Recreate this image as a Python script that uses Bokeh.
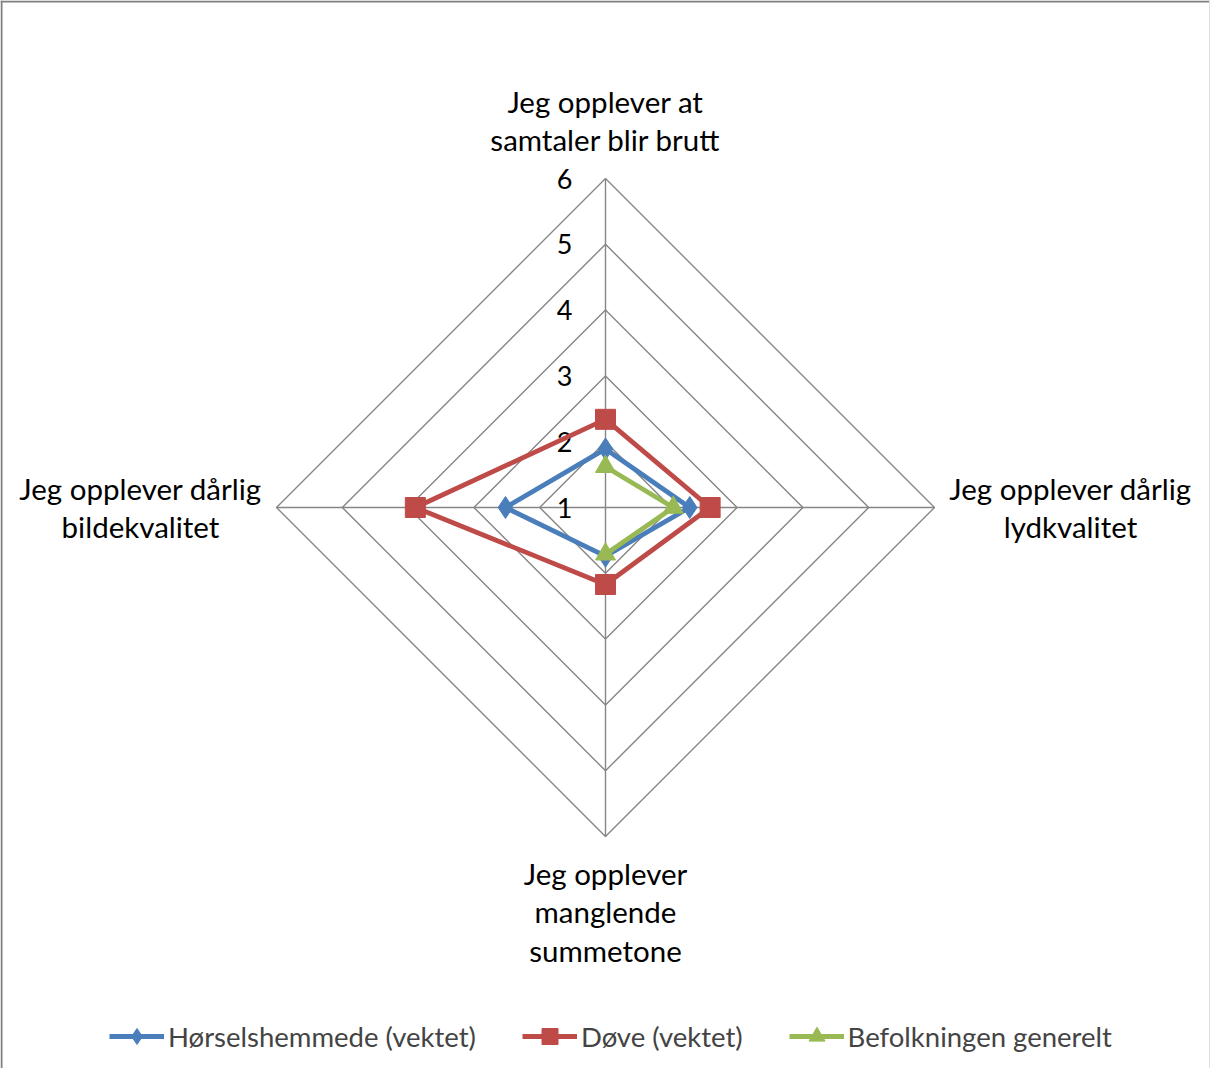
import math
from bokeh.plotting import figure
from bokeh.models import Range1d, Span, Legend, LegendItem
from bokeh.core.properties import value
from bokeh.embed import file_html
from bokeh.resources import INLINE

# ---- data ----
categories = [
    "Jeg opplever at\nsamtaler blir brutt",
    "Jeg opplever dårlig\nlydkvalitet",
    "Jeg opplever\nmanglende\nsummetone",
    "Jeg opplever dårlig\nbildekvalitet",
]
series_names = ["Hørselshemmede (vektet)", "Døve (vektet)", "Befolkningen generelt"]
hoerselshemmede = [1.89, 2.28, 1.74, 2.52]
doeve = [2.34, 2.59, 2.17, 3.89]
befolkningen = [1.62, 2.03, 1.71, float("nan")]
tick_labels = ["1", "2", "3", "4", "5", "6"]
r_min, r_max = 1, 6

# ---- style ----
FONT = "Lato"
colors = ["#4a7ebb", "#be4b48", "#98b954"]
markers = ["diamond", "square", "triangle"]
marker_sizes = [22, 20, 20]
GRID = "#868686"
UNIT = 65.8  # px per value unit

W, H = 1210, 1068
cx, cy = 605, 507
p = figure(width=W, height=H, output_backend="svg", toolbar_location=None,
           x_range=Range1d(-cx, W - cx), y_range=Range1d(cy - H, cy),
           min_border=0, outline_line_color=None)
p.axis.visible = False
p.grid.visible = False
p.background_fill_color = "white"
p.border_fill_color = "white"

# angles: top, right, bottom, left
angles = [math.pi / 2, 0, -math.pi / 2, math.pi]


def to_xy(vals):
    xs, ys = [], []
    for v, a in zip(vals, angles):
        r = (v - r_min) * UNIT
        xs.append(r * math.cos(a))
        ys.append(r * math.sin(a))
    return xs, ys


# grid rings
for lv in range(r_min + 1, r_max + 1):
    xs, ys = to_xy([lv] * 4)
    p.line(xs + xs[:1], ys + ys[:1], line_color=GRID, line_width=1.4)
# spokes
for a in angles:
    R = (r_max - r_min) * UNIT
    p.line([0, R * math.cos(a)], [0, R * math.sin(a)], line_color=GRID, line_width=1.4)

# tick labels
tick_vals = [float(t) for t in tick_labels]
p.text(x=[-33] * len(tick_vals), y=[(v - r_min) * UNIT for v in tick_vals], text=tick_labels,
       text_font=value(FONT), text_font_size="27px", text_align="right",
       text_baseline="middle", text_color="#000000")

# category labels
R = (r_max - r_min) * UNIT
lab_r = [R + 58, R + 136, R + 75, R + 136]
lx = [lab_r[i] * math.cos(a) for i, a in enumerate(angles)]
ly = [lab_r[i] * math.sin(a) for i, a in enumerate(angles)]
p.text(x=lx, y=ly, text=categories, text_font=value(FONT), text_font_size="29.5px",
       text_align="center", text_baseline="middle", text_line_height=1.1,
       text_color="#000000")

# series
items = []
for name, vals, col, mk, ms in zip(series_names, [hoerselshemmede, doeve, befolkningen],
                                    colors, markers, marker_sizes):
    xs, ys = to_xy(vals)
    lr = p.line(xs + xs[:1], ys + ys[:1], line_color=col, line_width=4.8, line_join="round")
    sr = p.scatter(xs, ys, marker=mk, size=ms, fill_color=col, line_color=col)
    items.append(LegendItem(label=name, renderers=[lr, sr]))

legend = Legend(items=items, orientation="horizontal", location=(109, 12),
                glyph_width=55, glyph_height=40, label_text_font=FONT,
                label_text_font_size="27.5px", label_standoff=4, spacing=46,
                padding=0, margin=0, border_line_color=None,
                background_fill_alpha=0, label_height=40)
p.add_layout(legend, "center")

# chart border (left/top darker, right light)
p.add_layout(Span(location=-cx + 1, dimension="height", line_color="#808080", line_width=2))
p.add_layout(Span(location=cy - 1, dimension="width", line_color="#808080", line_width=2))
p.add_layout(Span(location=W - cx - 1, dimension="height", line_color="#e0e0e0", line_width=1))

open("out.html", "w").write(file_html(p, INLINE))
